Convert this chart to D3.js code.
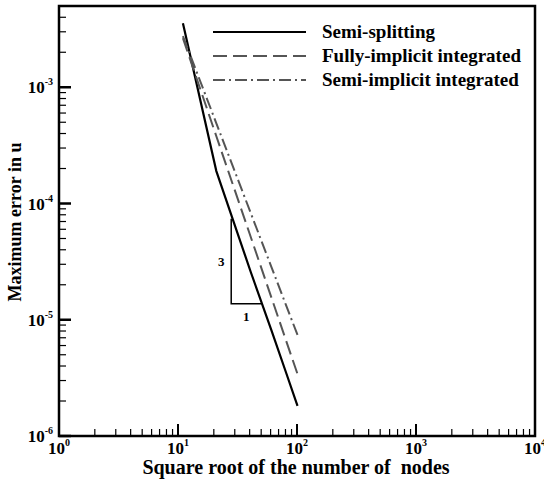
<!DOCTYPE html>
<html>
<head>
<meta charset="utf-8">
<script src="https://cdn.jsdelivr.net/npm/d3@7"></script>
<style>
	body { margin: 0; background: #fff; }
	text { font-family: "Liberation Serif", "Times New Roman", serif; font-weight: bold; }
</style>
</head>
<body>
<script>
// sqrt of node count at each run
var nodes = [11, 21, 41, 61, 81, 101];
var semiSplitting = [3.55e-3, 1.9e-4, 2.55e-5, 8.1e-6, 3.5e-6, 1.82e-6];
var fullyImplicit = [2.64e-3, 3.79e-4, 5.1e-5, 1.55e-5, 6.6e-6, 3.41e-6];
var semiImplicit = [2.75e-3, 4.9e-4, 8.2e-5, 2.84e-5, 1.33e-5, 7.4e-6];
var seriesNames = ["Semi-splitting", "Fully-implicit integrated", "Semi-implicit integrated"];
var xTickExp = [0, 1, 2, 3, 4];
var yTickExp = [-6, -5, -4, -3];
// slope triangle: x span and y span
var triX = [28, 50];
var triY = [7.4e-5, 1.37e-5];

var width = 544, height = 480;
var pLeft = 59, pRight = 535, pTop = 6, pBottom = 436;

var svg = d3.select("body").append("svg")
	.attr("width", width)
	.attr("height", height);

var x = d3.scaleLog().domain([1, 1e4]).range([pLeft, pRight]);
var y = d3.scaleLog().domain([1e-6, 5e-3]).range([pBottom, pTop]);

// minor ticks
var xMinor = [];
for (var e = 0; e < 4; e++)
	for (var m = 2; m < 10; m++) xMinor.push(m * Math.pow(10, e));
var yMinor = [];
for (var e = -6; e < -2; e++)
	for (var m = 2; m < 10; m++) {
		var v = m * Math.pow(10, e);
		if (v < 5e-3) yMinor.push(v);
	}

var ticks = svg.append("g").attr("stroke", "#000");
ticks.selectAll(".xmin").data(xMinor).enter().append("line")
	.attr("x1", d => x(d)).attr("x2", d => x(d))
	.attr("y1", pBottom).attr("y2", pBottom - 7)
	.attr("stroke-width", 1.2);
ticks.selectAll(".xmaj").data(xTickExp).enter().append("line")
	.attr("x1", d => x(Math.pow(10, d))).attr("x2", d => x(Math.pow(10, d)))
	.attr("y1", pBottom).attr("y2", pBottom - 12)
	.attr("stroke-width", 2);
ticks.selectAll(".ymin").data(yMinor).enter().append("line")
	.attr("x1", pLeft).attr("x2", pLeft + 7)
	.attr("y1", d => y(d)).attr("y2", d => y(d))
	.attr("stroke-width", 1.2);
ticks.selectAll(".ymaj").data(yTickExp).enter().append("line")
	.attr("x1", pLeft).attr("x2", pLeft + 12)
	.attr("y1", d => y(Math.pow(10, d))).attr("y2", d => y(Math.pow(10, d)))
	.attr("stroke-width", 2.5);

// frame
svg.append("rect")
	.attr("x", pLeft).attr("y", pTop)
	.attr("width", pRight - pLeft).attr("height", pBottom - pTop)
	.attr("fill", "none").attr("stroke", "#000").attr("stroke-width", 2.5);

// tick labels
var xl = svg.append("g").selectAll("text").data(xTickExp).enter().append("text")
	.attr("x", d => x(Math.pow(10, d)))
	.attr("y", pBottom + 18)
	.attr("text-anchor", "middle")
	.style("font-size", "17px");
xl.append("tspan").text("10");
xl.append("tspan").attr("dy", -8).style("font-size", "10px").text(d => d);

var yl = svg.append("g").selectAll("text").data(yTickExp).enter().append("text")
	.attr("x", pLeft - 6)
	.attr("y", d => y(Math.pow(10, d)) + 6)
	.attr("text-anchor", "end")
	.style("font-size", "17px");
yl.append("tspan").text("10");
yl.append("tspan").attr("dy", -8).style("font-size", "10px").text(d => d);

// axis titles
svg.append("text")
	.attr("x", 296)
	.attr("y", 474)
	.attr("text-anchor", "middle")
	.style("font-size", "20px")
	.style("white-space", "pre")
	.text("Square root of the number of  nodes");

svg.append("text")
	.attr("transform", "translate(21,222) rotate(-90)")
	.attr("text-anchor", "middle")
	.style("font-size", "18px")
	.text("Maximum error in u");

// series
var series = [
	{ name: seriesNames[0], values: semiSplitting, color: "#000", dash: null, w: 2.2 },
	{ name: seriesNames[1], values: fullyImplicit, color: "#555", dash: "14,6", w: 2 },
	{ name: seriesNames[2], values: semiImplicit, color: "#555", dash: "12,4,2,4", w: 2 }
];

var line = d3.line()
	.x(d => x(d[0]))
	.y(d => y(d[1]));

svg.append("g").selectAll("path").data(series).enter().append("path")
	.attr("d", s => line(d3.zip(nodes, s.values)))
	.attr("fill", "none")
	.attr("stroke", s => s.color)
	.attr("stroke-width", s => s.w)
	.attr("stroke-dasharray", s => s.dash);

// slope triangle
svg.append("path")
	.attr("d", "M" + x(triX[0]) + "," + y(triY[0]) + "V" + y(triY[1]) + "H" + x(triX[1]))
	.attr("fill", "none")
	.attr("stroke", "#000")
	.attr("stroke-width", 1.5);
svg.append("text")
	.attr("x", x(triX[0]) - 10)
	.attr("y", (y(triY[0]) + y(triY[1])) / 2 + 5)
	.attr("text-anchor", "middle")
	.style("font-size", "13px")
	.text("3");
svg.append("text")
	.attr("x", (x(triX[0]) + x(triX[1])) / 2)
	.attr("y", y(triY[1]) + 17)
	.attr("text-anchor", "middle")
	.style("font-size", "13px")
	.text("1");

// legend
var legend = svg.append("g").selectAll("g").data(series).enter().append("g")
	.attr("transform", (d, i) => "translate(213," + (32 + i * 24) + ")");
legend.append("line")
	.attr("x1", 0).attr("x2", 93)
	.attr("stroke", s => s.color)
	.attr("stroke-width", s => s.w)
	.attr("stroke-dasharray", s => s.dash);
legend.append("text")
	.attr("x", 109)
	.attr("y", 6)
	.style("font-size", "19px")
	.text(s => s.name);
</script>
</body>
</html>
